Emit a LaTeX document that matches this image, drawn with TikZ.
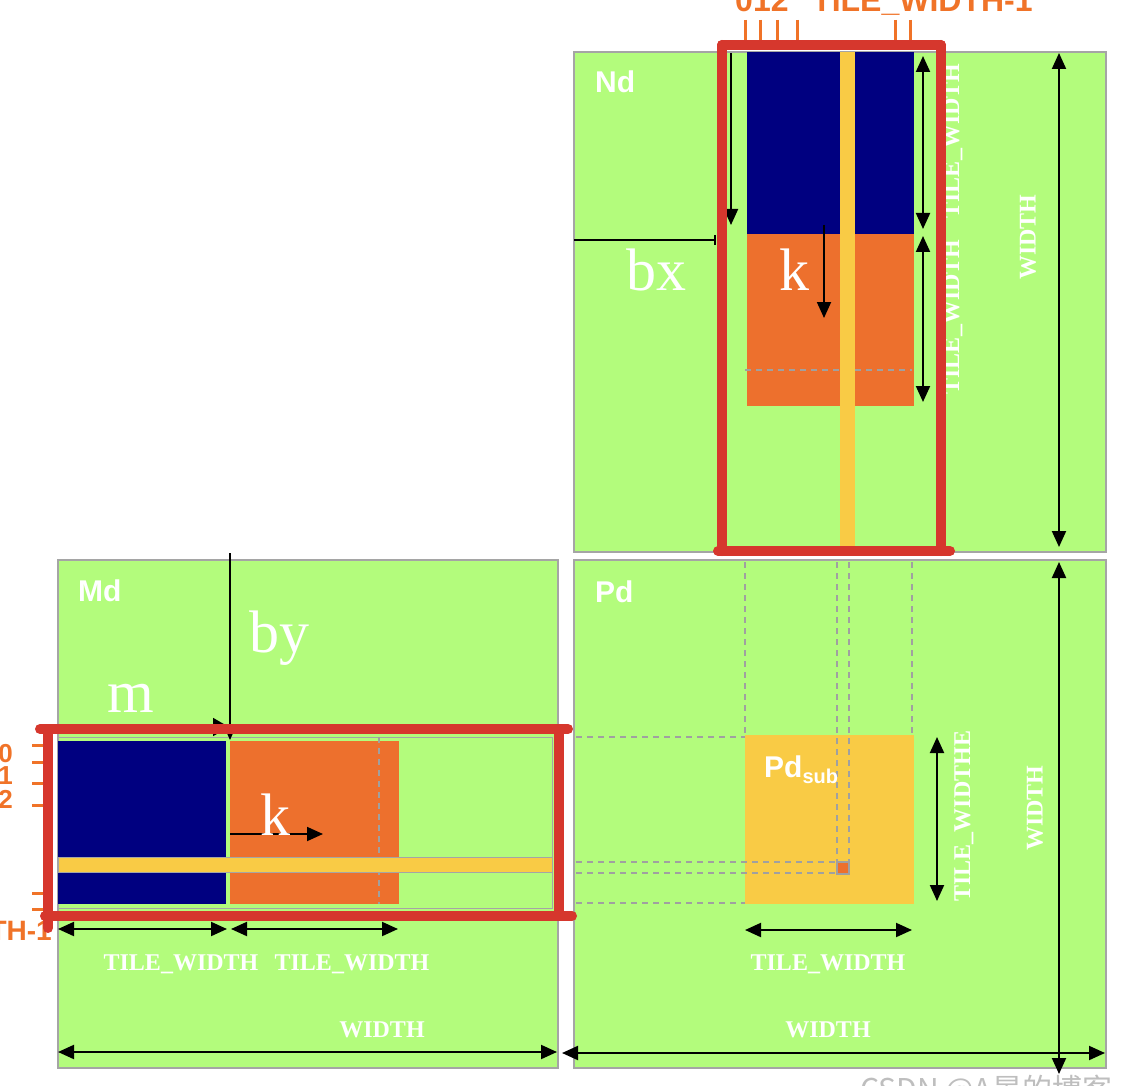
\documentclass[tikz,border=0pt]{standalone}
\usepackage{fontspec}
\setmainfont{Liberation Serif}
\newfontfamily\arialf{Liberation Sans}
\newfontfamily\cjkf{Noto Sans CJK SC}
\usetikzlibrary{arrows.meta}
\definecolor{mgreen}{RGB}{179,252,124}
\definecolor{boxgray}{RGB}{165,165,165}
\definecolor{mnavy}{RGB}{0,0,128}
\definecolor{morange}{RGB}{237,112,45}
\definecolor{myellow}{RGB}{249,203,69}
\definecolor{mred}{RGB}{214,55,45}
\definecolor{tickorange}{RGB}{240,115,40}
\definecolor{dgray}{RGB}{160,160,160}
\definecolor{wmgray}{RGB}{190,190,190}
\tikzset{
  mat/.style={fill=mgreen, draw=boxgray, line width=1.5pt},
  dimarrow/.style={{Triangle[length=16pt,width=14pt]}-{Triangle[length=16pt,width=14pt]}, line width=2pt},
  onearrow/.style={-{Triangle[length=16pt,width=14pt]}, line width=1.8pt},
  redline/.style={draw=mred, line width=10pt, line cap=round},
  dashgray/.style={draw=dgray, line width=1.5pt, dash pattern=on 6pt off 5pt},
  ticko/.style={draw=tickorange, line width=3pt},
  dimlab/.style={text=white, inner sep=0pt, font=\bfseries\fontsize{24}{24}\selectfont},
  biglab/.style={text=white, inner sep=0pt, anchor=base, font=\fontsize{60}{60}\selectfont},
  matlab/.style={text=white, inner sep=0pt, anchor=base west, font=\arialf\bfseries\fontsize{30}{30}\selectfont},
  olab/.style={text=tickorange, inner sep=0pt, font=\arialf\bfseries\fontsize{30}{30}\selectfont}
}
\begin{document}
\begin{tikzpicture}[x=1pt,y=-1pt]
\useasboundingbox (0,0) rectangle (1130,1086);
\clip (0,0) rectangle (1130,1086);
\fill[white] (0,0) rectangle (1130,1086);

% matrices
\path[mat] (574,52) rectangle (1106,552);
\path[mat] (58,560) rectangle (558,1068);
\path[mat] (574,560) rectangle (1106,1068);

% Nd tiles
\fill[mnavy] (747,52) rectangle (914,234);
\fill[morange] (747,234) rectangle (914,406);
\draw[dashgray] (745,370) -- (912,370);
\fill[myellow] (840,52) rectangle (855,546);

% Md tiles
\draw[draw=boxgray, line width=1pt] (58,737) rectangle (552,908);
\fill[mnavy] (58,741) rectangle (226,904);
\fill[morange] (230,741) rectangle (399,904);
\draw[dashgray] (379,737) -- (379,904);
\path[fill=myellow, draw=boxgray, line width=1pt] (58,857) rectangle (552,872);

% Pd
\draw[dashgray] (745,562) -- (745,735);
\draw[dashgray] (912,562) -- (912,735);
\draw[dashgray] (576,737) -- (745,737);
\draw[dashgray] (576,903) -- (745,903);
\fill[myellow] (745,735) rectangle (914,904);
\draw[dashgray] (837,562) -- (837,862);
\draw[dashgray] (849,562) -- (849,862);
\draw[dashgray] (576,862) -- (837,862);
\draw[dashgray] (576,873) -- (837,873);
\path[fill=morange, draw=dgray, line width=1.5pt] (837,862) rectangle (849,874);

% arrows Nd
\draw[onearrow] (731,53) -- (731,225);
\draw[line width=1.8pt, -{Bar[width=10pt]}] (574,240) -- (716,240);
\draw[onearrow] (824,225) -- (824,318);
\draw[dimarrow] (923,56) -- (923,229);
\draw[dimarrow] (923,236) -- (923,402);
\draw[dimarrow] (1059,53) -- (1059,547);

% arrows Md
\draw[onearrow] (230,553) -- (230,740);
\draw[-{Triangle[length=16pt,width=18pt]}, line width=1.8pt] (58,727) -- (229,727);
\draw[onearrow] (230,834) -- (323,834);
\draw[dimarrow] (58,929) -- (227,929);
\draw[dimarrow] (231,929) -- (398,929);
\draw[dimarrow] (58,1052) -- (557,1052);

% arrows Pd
\draw[dimarrow] (937,737) -- (937,901);
\draw[dimarrow] (745,930) -- (912,930);
\draw[dimarrow] (562,1053) -- (1105,1053);
\draw[dimarrow] (1059,562) -- (1059,1074);

% labels
\node[matlab] (nd) at (595,93) {Nd};
\node[matlab] (md) at (78,601) {Md};
\node[matlab] (pd) at (595,602) {Pd};
\node[matlab] (pdsub) at (764,777) {Pd\raisebox{-6pt}{\fontsize{20}{20}\selectfont sub}};

\node[biglab] (bx) at (656,290) {bx};
\node[biglab] (kn) at (794,290) {k};
\node[biglab] (by) at (279,652) {by};
\node[biglab] (m) at (131,712) {m};
\node[biglab] (km) at (275,835) {k};

\node[dimlab, anchor=base] (tw1) at (181,970) {TILE\_WIDTH};
\node[dimlab, anchor=base] (tw2) at (352,970) {TILE\_WIDTH};
\node[dimlab, anchor=base] (wm) at (382,1037) {WIDTH};
\node[dimlab, anchor=base] (tw3) at (828,970) {TILE\_WIDTH};
\node[dimlab, anchor=base] (wp) at (828,1037) {WIDTH};
\node[dimlab, rotate=90] (tw4) at (953,141) {TILE\_WIDTH};
\node[dimlab, rotate=90] (tw5) at (953,317) {TILE\_WIDTH};
\node[dimlab, rotate=90] (wn) at (1028,237) {WIDTH};
\node[dimlab, rotate=90] (tw6) at (964,816) {TILE\_WIDTHE};
\node[dimlab, rotate=90] (wp2) at (1035,808) {WIDTH};

% orange index marks (top)
\foreach \xx in {745,760,777,797,895,910} \draw[ticko] (\xx,20) -- (\xx,40);
\node[olab, anchor=base west, font=\arialf\bfseries\fontsize{32}{32}\selectfont] (i012) at (735,12) {012};
\node[olab, anchor=base west, font=\arialf\bfseries\fontsize{32}{32}\selectfont] (itw) at (812,12) {TILE\_WIDTH-1};

% orange index marks (left)
\foreach \yy in {745,762,783,805,893,909} \draw[ticko] (32,\yy) -- (45,\yy);
\node[olab, anchor=base east, font=\arialf\bfseries\fontsize{26}{26}\selectfont] (l0) at (13,762) {0};
\node[olab, anchor=base east, font=\arialf\bfseries\fontsize{26}{26}\selectfont] (l1) at (13,784) {1};
\node[olab, anchor=base east, font=\arialf\bfseries\fontsize{26}{26}\selectfont] (l2) at (13,808) {2};
\node[olab, anchor=base east, font=\arialf\bfseries\fontsize{28}{28}\selectfont] (ltw) at (52,940) {TILE\_WIDTH-1};

% red outlines Nd
\draw[redline] (722,45) -- (941,45);
\draw[redline] (722,45) -- (722,551);
\draw[redline] (941,45) -- (941,551);
\draw[redline] (718,551) -- (950,551);

% red outlines Md
\draw[redline] (40,729) -- (568,729);
\draw[redline] (48,729) -- (48,928);
\draw[redline] (559,729) -- (559,916);
\draw[redline] (45,916) -- (572,916);

% watermark
\node[text=wmgray, inner sep=0pt, anchor=base west, font=\cjkf\fontsize{30}{30}\selectfont] (wmk) at (860,1100) {CSDN @A晏的博客};
\end{tikzpicture}
\end{document}
